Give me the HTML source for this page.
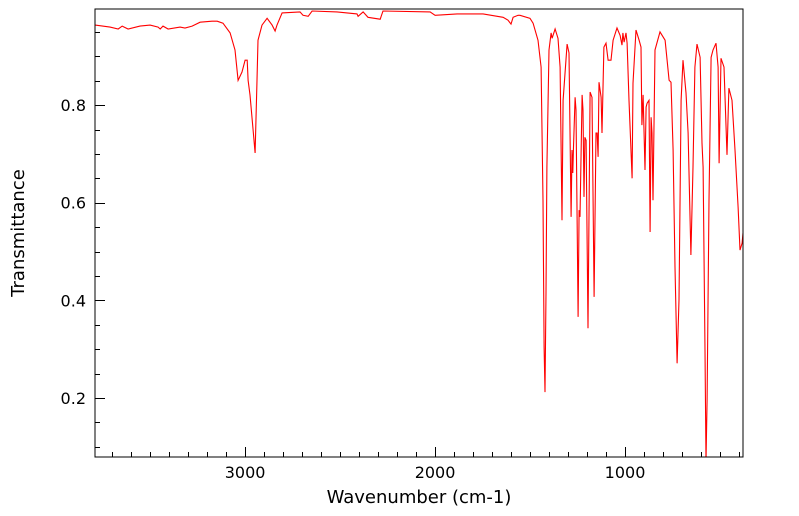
<!DOCTYPE html>
<html><head><meta charset="utf-8"><style>
body{margin:0;background:#fff;}
svg{display:block;font-family:"DejaVu Sans","Liberation Sans",sans-serif;}
</style></head><body>
<svg id="chart" width="799" height="516" viewBox="0 0 799 516">
<defs><clipPath id="clip"><rect x="95" y="9" width="648" height="448"/></clipPath></defs>
<g id="grid-ticks"></g>
<path id="line" fill="none" stroke="#ff0000" stroke-width="1.1" clip-path="url(#clip)"/>
<rect x="95" y="9" width="648" height="448" fill="none" stroke="#000" stroke-width="1"/>
<text x="419" y="503" font-size="18" text-anchor="middle">Wavenumber (cm-1)</text>
<text transform="translate(24,233) rotate(-90)" font-size="18" text-anchor="middle">Transmittance</text>
</svg>
<script>
const wavenumbers=[3789,3711,3668,3647,3616,3553,3500,3458,3447,3432,3405,3342,3316,3279,3237,3174,3147,3116,3079,3053,3037,3016,3000,2989,2984,2974,2958,2947,2937,2932,2911,2884,2858,2842,2832,2805,2711,2695,2668,2647,2516,2411,2405,2379,2353,2289,2274,2026,2000,1884,1747,1642,1616,1600,1589,1563,1553,1500,1484,1458,1442,1432,1426,1421,1416,1411,1400,1389,1384,1368,1353,1342,1332,1326,1305,1295,1284,1279,1275,1272,1263,1258,1247,1242,1237,1226,1221,1216,1211,1205,1195,1184,1174,1163,1153,1147,1142,1137,1126,1121,1111,1100,1089,1074,1063,1042,1026,1016,1011,1005,995,989,979,963,958,942,926,916,911,905,895,889,884,874,868,863,858,853,842,816,789,768,758,747,737,726,716,705,695,679,668,653,642,632,621,605,595,589,579,574,568,558,547,537,521,510,505,495,479,463,453,437,421,405,395,384,379];
const transmittance=[.964,.960,.956,.962,.956,.962,.964,.960,.956,.962,.956,.960,.958,.962,.970,.972,.972,.968,.948,.913,.851,.868,.892,.892,.851,.821,.749,.702,.851,.933,.964,.978,.964,.952,.964,.989,.991,.984,.982,.993,.991,.987,.982,.991,.980,.976,.993,.991,.984,.987,.987,.980,.974,.966,.980,.984,.984,.978,.968,.933,.878,.605,.304,.212,.415,.673,.913,.948,.937,.956,.937,.878,.564,.810,.925,.907,.571,.708,.661,.708,.816,.790,.366,.585,.571,.821,.790,.612,.734,.728,.343,.827,.816,.407,.743,.743,.694,.847,.816,.743,.919,.927,.892,.892,.933,.958,.943,.923,.948,.929,.948,.927,.810,.650,.845,.954,.933,.919,.759,.821,.667,.796,.804,.810,.540,.775,.743,.605,.913,.950,.933,.851,.847,.708,.468,.271,.401,.810,.892,.825,.743,.493,.673,.878,.925,.898,.722,.673,.298,.07,.196,.605,.898,.913,.927,.878,.681,.896,.878,.698,.835,.810,.708,.591,.503,.517,.538];
const xTickLabels=[3000,2000,1000];
const yTickLabels=[0.2,0.4,0.6,0.8];
const X0=95,X1=743,Y0=9,Y1=457,XMAX=3790,XMIN=379,YMIN=0.079,YMAX=0.997;
const sx=w=>X0+(XMAX-w)/(XMAX-XMIN)*(X1-X0);
const sy=t=>Y1-(t-YMIN)/(YMAX-YMIN)*(Y1-Y0);
const NS='http://www.w3.org/2000/svg';
let d='';
wavenumbers.forEach((w,i)=>{d+=(i?'L':'M')+sx(w).toFixed(1)+','+sy(transmittance[i]).toFixed(1);});
document.getElementById('line').setAttribute('d',d);
const g=document.getElementById('grid-ticks');
const svg=document.getElementById('chart');
function ln(x1,y1,x2,y2){const l=document.createElementNS(NS,'line');l.setAttribute('x1',x1);l.setAttribute('y1',y1);l.setAttribute('x2',x2);l.setAttribute('y2',y2);l.setAttribute('stroke','#000');l.setAttribute('stroke-width','1');


g.appendChild(l);}
for(let w=400;w<=3700;w+=100){const x=Math.round(sx(w))+0.5;const major=w%1000===0;ln(x,Y1,x,Y1-(major?10:5));}
for(let k=2;k<=19;k++){const t=k*0.05;if(t<YMIN||t>YMAX)continue;const y=Math.round(sy(t))+0.5;const major=k%4===0;ln(X0,y,X0+(major?10:5),y);}
xTickLabels.forEach(v=>{const t=document.createElementNS(NS,'text');t.setAttribute('x',sx(v));t.setAttribute('y',478);t.setAttribute('font-size','16');t.setAttribute('text-anchor','middle');t.textContent=v;


svg.appendChild(t);});
yTickLabels.forEach(v=>{const t=document.createElementNS(NS,'text');t.setAttribute('x',86);t.setAttribute('y',sy(v)+6);t.setAttribute('font-size','16');t.setAttribute('text-anchor','end');t.textContent=v.toFixed(1);


svg.appendChild(t);});
</script>
</body></html>
